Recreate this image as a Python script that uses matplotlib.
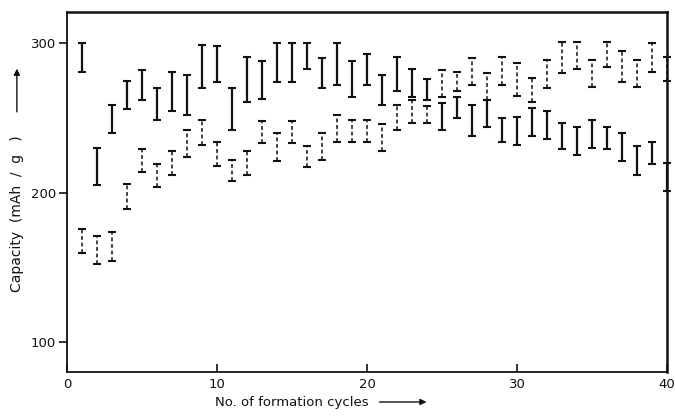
"""Formation-cycle capacity chart: two sets of range bars (solid / dashed)."""
import matplotlib

matplotlib.use("Agg")
import matplotlib.pyplot as plt
import numpy as np

cycles = list(range(1, 41))

# solid bars: upper / lower capacity (mAh/g)
solid_hi = [300, 230, 259, 275, 282, 270, 281, 279, 299, 298,
            270, 291, 288, 300, 300, 300, 290, 300, 288, 293,
            279, 291, 283, 276, 260, 264, 259, 262, 250, 251,
            257, 255, 247, 244, 249, 244, 240, 231, 234, 220]
solid_lo = [281, 205, 240, 256, 262, 249, 255, 252, 270, 274,
            242, 261, 263, 274, 274, 283, 270, 272, 264, 272,
            259, 268, 264, 262, 242, 250, 238, 244, 234, 232,
            238, 236, 229, 225, 230, 229, 221, 212, 219, 201]

# dashed bars
dash_hi = [176, 171, 174, 206, 229, 219, 228, 242, 249, 234,
           222, 228, 248, 240, 248, 231, 240, 252, 249, 249,
           246, 259, 262, 258, 282, 281, 290, 280, 291, 287,
           277, 289, 301, 301, 289, 301, 295, 289, 300, 291]
dash_lo = [160, 152, 154, 189, 214, 204, 212, 224, 232, 218,
           208, 212, 233, 221, 233, 217, 222, 234, 234, 234,
           228, 242, 247, 247, 264, 268, 272, 262, 272, 265,
           261, 270, 280, 283, 271, 284, 274, 271, 281, 275]

x_ticks = [0, 10, 20, 30, 40]
y_ticks = [100, 200, 300]

INK = "#111111"


def range_bars(ax, x, hi, lo, dashed=False):
    hi = np.asarray(hi, float)
    lo = np.asarray(lo, float)
    mid = (hi + lo) / 2
    half = (hi - lo) / 2
    _, caps, bars = ax.errorbar(x, mid, yerr=half, fmt="none", ecolor=INK,
                                elinewidth=1.1 if dashed else 1.6,
                                capsize=3.0, capthick=1.5, clip_on=False)
    if dashed:
        bars[0].set_linestyle((0, (2.5, 1.8)))
    for c in caps:
        c.set_clip_on(False)
    bars[0].set_clip_on(False)


fig = plt.figure(figsize=(6.75, 4.17), dpi=100)
ax = fig.add_axes([0.0993, 0.108, 0.889, 0.863])

range_bars(ax, cycles, solid_hi, solid_lo)
range_bars(ax, cycles, dash_hi, dash_lo, dashed=True)

ax.set_xlim(0, 40)
ax.set_ylim(80, 321)
ax.set_xticks(x_ticks)
ax.set_yticks(y_ticks)
ax.tick_params(axis="x", direction="in", length=6, width=1.2,
               labelsize=9.5, colors=INK, pad=4)
ax.tick_params(axis="y", direction="out", length=6, width=1.2,
               labelsize=9.5, colors=INK, pad=2)
for side in ("left", "bottom"):
    ax.spines[side].set_linewidth(1.3)
for side in ("top", "right"):
    ax.spines[side].set_linewidth(1.8)
for sp in ax.spines.values():
    sp.set_color(INK)

# axis titles with arrows, as in the original figure
fig.text(0.318, 0.019, "No. of formation cycles", fontsize=9.5, color=INK,
         ha="left", va="bottom")
fig.add_artist(matplotlib.patches.FancyArrowPatch(
    (0.558, 0.036), (0.636, 0.036), transform=fig.transFigure,
    arrowstyle="-|>", mutation_scale=9, color=INK, lw=1.0))

fig.text(0.025, 0.30, "Capacity  (mAh  /  g   )", fontsize=10, color=INK,
         rotation=90, ha="center", va="bottom")
fig.add_artist(matplotlib.patches.FancyArrowPatch(
    (0.025, 0.725), (0.025, 0.842), transform=fig.transFigure,
    arrowstyle="-|>", mutation_scale=9, color=INK, lw=1.0))

fig.savefig("out.png", dpi=100, facecolor="white")
